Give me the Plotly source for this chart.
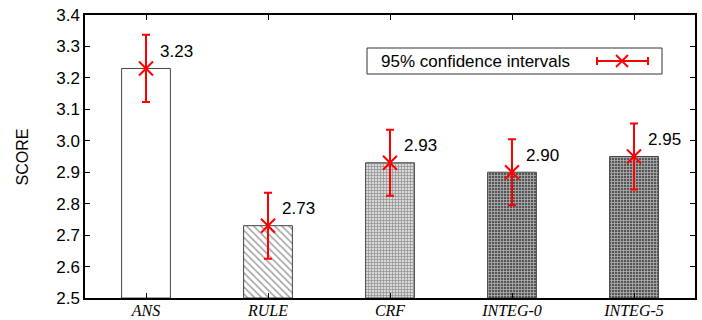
import plotly.graph_objects as go

categories = ["ANS", "RULE", "CRF", "INTEG-0", "INTEG-5"]
scores = [3.23, 2.73, 2.93, 2.90, 2.95]
ci_half = [0.107, 0.105, 0.105, 0.105, 0.105]
value_labels = ["3.23", "2.73", "2.93", "2.90", "2.95"]
y_ticks = [2.5, 2.6, 2.7, 2.8, 2.9, 3.0, 3.1, 3.2, 3.3, 3.4]

W, H = 702, 320
ML, MR, MT, MB = 85, 7, 15, 22
PW, PH = W - ML - MR, H - MT - MB
SANS = "Liberation Sans, Arial"

def px(x):
    return (x - ML) / PW

def py(y):
    return (H - MB - y) / PH

patterns = [
    dict(shape="", fgcolor="black", bgcolor="white", size=6, solidity=0.3),
    dict(shape="\\", fgcolor="#333333", bgcolor="white", size=5, solidity=0.3),
    dict(shape="+", fgcolor="#999999", bgcolor="#d8d8d8", size=3, solidity=0.4),
    dict(shape="+", fgcolor="#222222", bgcolor="#555555", size=3, solidity=0.5),
    dict(shape="+", fgcolor="#222222", bgcolor="#555555", size=3, solidity=0.5),
]
bar_colors = ["white", "white", "#d8d8d8", "#555555", "#555555"]

fig = go.Figure()
fig.add_trace(go.Bar(
    x=categories, y=[s - 2.5 for s in scores], base=2.5,
    marker=dict(color=bar_colors,
                line=dict(color="#444444", width=1),
                pattern=dict(shape=[p["shape"] for p in patterns],
                             fgcolor=[p["fgcolor"] for p in patterns],
                             bgcolor=[p["bgcolor"] for p in patterns],
                             size=[p["size"] for p in patterns],
                             solidity=[p["solidity"] for p in patterns])),
    showlegend=False, hoverinfo="skip",
))
fig.add_trace(go.Scatter(
    x=categories, y=scores, mode="markers",
    marker=dict(symbol="x-thin", size=14, line=dict(color="red", width=2), color="red"),
    error_y=dict(type="data", array=ci_half, color="red", thickness=2, width=4),
    showlegend=False, hoverinfo="skip",
))

for c, s, t in zip(categories, scores, value_labels):
    fig.add_annotation(x=c, y=s, text=t, showarrow=False, xanchor="left",
                       yanchor="middle", xshift=12, yshift=17,
                       font=dict(family=SANS, size=17, color="black"))

# y axis title
fig.add_annotation(xref="paper", yref="paper", x=px(22), y=0.5, text="SCORE", textangle=-90,
                   showarrow=False, xanchor="center", yanchor="middle",
                   font=dict(family=SANS, size=16, color="black"))

# manual legend
fig.add_shape(type="rect", xref="paper", yref="paper",
              x0=px(367), x1=px(662), y0=py(74), y1=py(48),
              line=dict(color="#333333", width=1), fillcolor="white")
fig.add_annotation(xref="paper", yref="paper", x=px(379), y=py(61), text="95% confidence intervals",
                   showarrow=False, xanchor="left", yanchor="middle",
                   font=dict(family=SANS, size=17, color="black"))
fig.add_shape(type="line", xref="paper", yref="paper", x0=px(597), x1=px(648), y0=py(61), y1=py(61),
              line=dict(color="red", width=2))
for xe in (597, 648):
    fig.add_shape(type="line", xref="paper", yref="paper", x0=px(xe), x1=px(xe), y0=py(57), y1=py(65),
                  line=dict(color="red", width=2))
fig.add_shape(type="line", xref="paper", yref="paper", x0=px(616), x1=px(628), y0=py(55), y1=py(67),
              line=dict(color="red", width=2))
fig.add_shape(type="line", xref="paper", yref="paper", x0=px(616), x1=px(628), y0=py(67), y1=py(55),
              line=dict(color="red", width=2))

fig.update_layout(
    width=W, height=H,
    margin=dict(l=ML, r=MR, t=MT, b=MB),
    plot_bgcolor="white", paper_bgcolor="white",
    bargap=0.6,
    xaxis=dict(showline=True, linecolor="black", linewidth=1.5, mirror="ticks",
               ticks="inside", ticklen=5, tickcolor="black", automargin=False,
               ticklabelstandoff=-3,
               tickfont=dict(family="Liberation Serif, Times New Roman", size=16, color="black", style="italic"),
               showgrid=False, zeroline=False),
    yaxis=dict(range=[2.5, 3.4], tickvals=y_ticks, tickformat=".1f",
               showline=True, linecolor="black", linewidth=1.5, mirror="ticks",
               ticks="inside", ticklen=5, tickcolor="black", automargin=False,
               tickfont=dict(family=SANS, size=17, color="black"),
               showgrid=False, zeroline=False),
)

fig.write_html("out.html", config={"displayModeBar": False},
               post_script="document.body.style.margin='0px';document.body.style.overflow='hidden';")
